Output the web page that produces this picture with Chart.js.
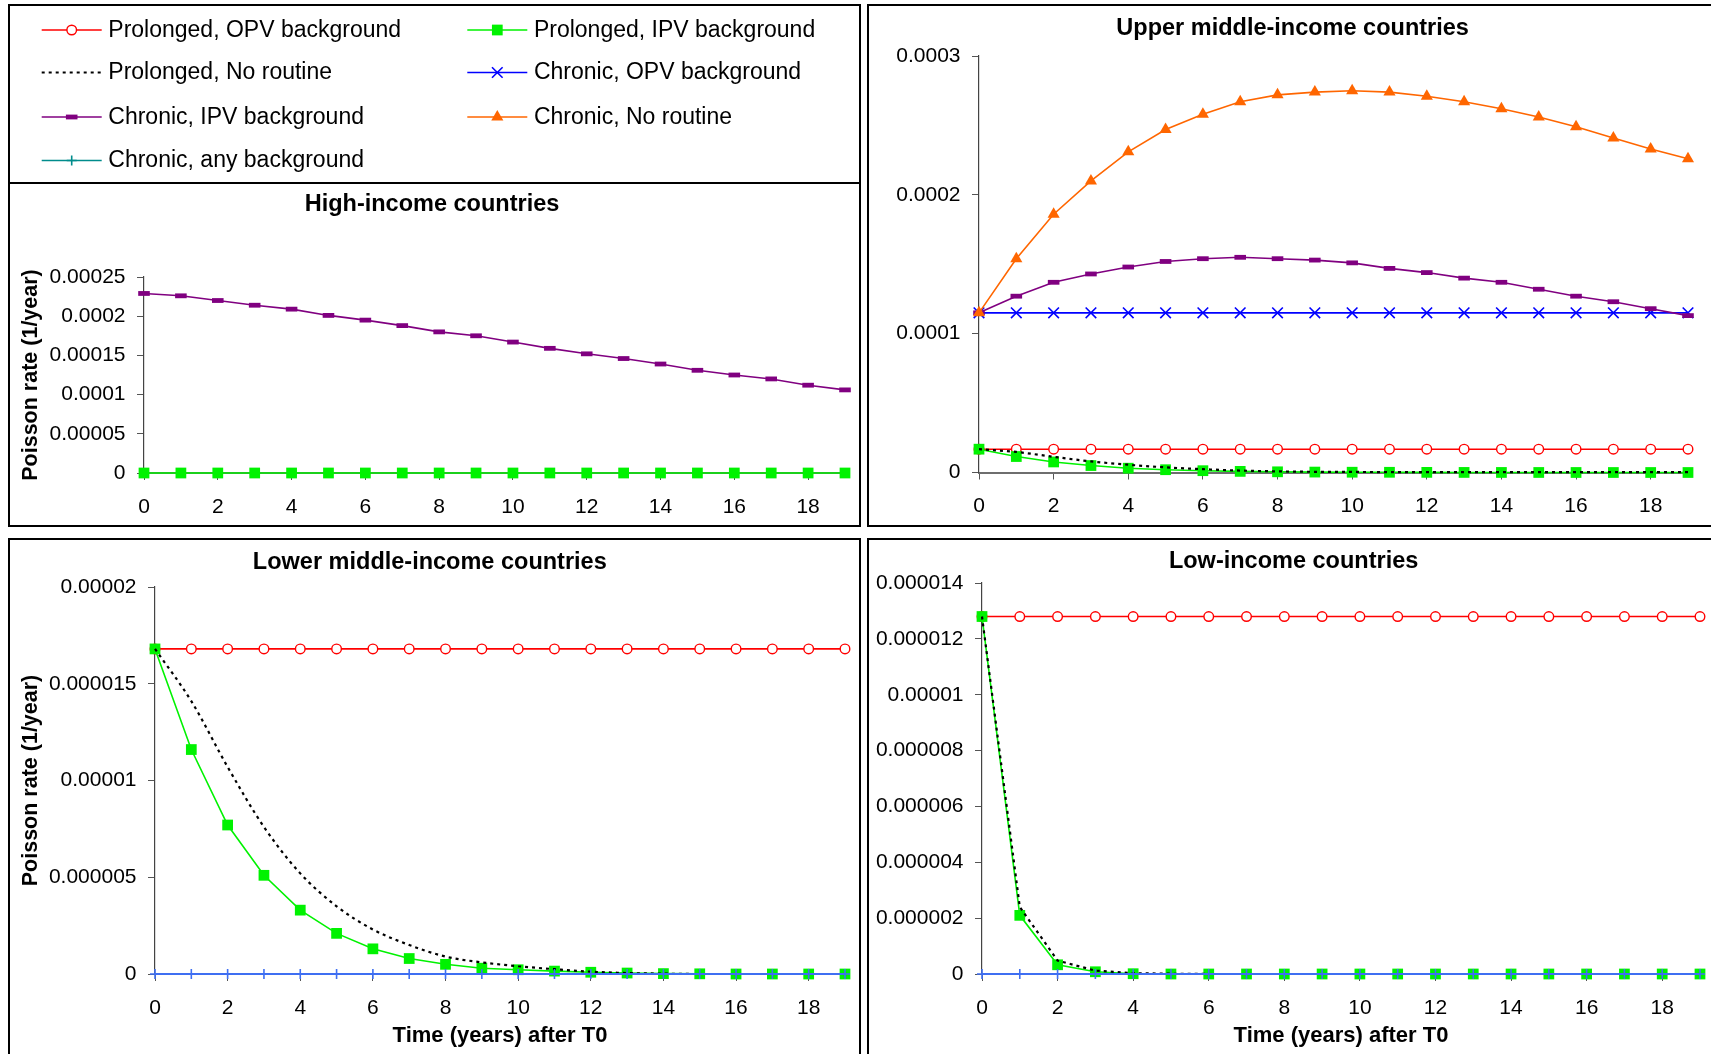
<!DOCTYPE html>
<html>
<head>
<meta charset="utf-8">
<title>Poisson rate of prolonged and chronic excretion by income group</title>
<script src="https://cdn.jsdelivr.net/npm/chart.js@4.4.0/dist/chart.umd.min.js"></script>
<style>
  html, body { margin: 0; padding: 0; background: #fff; width: 1711px; height: 1054px; overflow: hidden; }
  .panel { position: absolute; box-sizing: border-box; border: 2px solid #000; background: #fff; }
  .panel canvas { display: block; }
</style>
</head>
<body>
<div class="panel" style="left:8px;top:4px;width:853px;height:523px"><canvas id="c-hi" width="849" height="519"></canvas></div>
<div class="panel" style="left:867px;top:4px;width:846px;height:523px"><canvas id="c-um" width="842" height="519"></canvas></div>
<div class="panel" style="left:8px;top:538px;width:853px;height:520px"><canvas id="c-lm" width="849" height="516"></canvas></div>
<div class="panel" style="left:867px;top:538px;width:846px;height:520px"><canvas id="c-li" width="842" height="516"></canvas></div>

<script>
// ---- data ---------------------------------------------------------------

// Years after T0
const YEARS = [0, 1, 2, 3, 4, 5, 6, 7, 8, 9, 10, 11, 12, 13, 14, 15, 16, 17, 18, 19];
const X_TICKS = [0, 2, 4, 6, 8, 10, 12, 14, 16, 18];
const X_TICK_LABELS = ['0', '2', '4', '6', '8', '10', '12', '14', '16', '18'];

// High-income countries
const HI_PROLONGED_IPV = [0, 0, 0, 0, 0, 0, 0, 0, 0, 0, 0, 0, 0, 0, 0, 0, 0, 0, 0, 0];
const HI_CHRONIC_IPV = [0.000229, 0.000226, 0.000220, 0.000214, 0.000209, 0.000201, 0.000195, 0.000188, 0.000180, 0.000175,
                        0.000167, 0.000159, 0.000152, 0.000146, 0.000139, 0.000131, 0.000125, 0.000120, 0.000112, 0.000106];
const HI_Y_TICKS = [0, 0.00005, 0.0001, 0.00015, 0.0002, 0.00025];
const HI_Y_LABELS = ['0', '0.00005', '0.0001', '0.00015', '0.0002', '0.00025'];

// Upper middle-income countries
const UM_PROLONGED_OPV = [0.0000168, 0.0000168, 0.0000168, 0.0000168, 0.0000168, 0.0000168, 0.0000168, 0.0000168, 0.0000168, 0.0000168,
                          0.0000168, 0.0000168, 0.0000168, 0.0000168, 0.0000168, 0.0000168, 0.0000168, 0.0000168, 0.0000168, 0.0000168];
const UM_PROLONGED_IPV = [0.0000168, 0.0000115, 0.0000076, 0.0000050, 0.0000031, 0.0000020, 0.0000013, 0.0000008, 0.0000005, 0.0000003,
                          0.0000002, 0.00000015, 0.0000001, 0.00000005, 0.00000003, 0.00000002, 0.00000001, 0, 0, 0];
const UM_PROLONGED_NONE = [0.0000168, 0.0000148, 0.0000113, 0.0000080, 0.0000056, 0.0000037, 0.0000024, 0.0000014, 0.0000008, 0.0000005,
                           0.0000004, 0.0000003, 0.0000002, 0.0000002, 0.0000002, 0.0000002, 0.0000002, 0.0000002, 0.0000002, 0.0000002];
const UM_CHRONIC_OPV = [0.000115, 0.000115, 0.000115, 0.000115, 0.000115, 0.000115, 0.000115, 0.000115, 0.000115, 0.000115,
                        0.000115, 0.000115, 0.000115, 0.000115, 0.000115, 0.000115, 0.000115, 0.000115, 0.000115, 0.000115];
const UM_CHRONIC_IPV = [0.000115, 0.000127, 0.000137, 0.000143, 0.000148, 0.000152, 0.000154, 0.000155, 0.000154, 0.000153,
                        0.000151, 0.000147, 0.000144, 0.000140, 0.000137, 0.000132, 0.000127, 0.000123, 0.000118, 0.000113];
const UM_CHRONIC_NONE = [0.000115, 0.000154, 0.000186, 0.000210, 0.000231, 0.000247, 0.000258, 0.000267, 0.000272, 0.000274,
                         0.000275, 0.000274, 0.000271, 0.000267, 0.000262, 0.000256, 0.000249, 0.000241, 0.000233, 0.000226];
const UM_Y_TICKS = [0, 0.0001, 0.0002, 0.0003];
const UM_Y_LABELS = ['0', '0.0001', '0.0002', '0.0003'];

// Lower middle-income countries
const LM_PROLONGED_OPV = [0.0000168, 0.0000168, 0.0000168, 0.0000168, 0.0000168, 0.0000168, 0.0000168, 0.0000168, 0.0000168, 0.0000168,
                          0.0000168, 0.0000168, 0.0000168, 0.0000168, 0.0000168, 0.0000168, 0.0000168, 0.0000168, 0.0000168, 0.0000168];
const LM_PROLONGED_IPV = [0.0000168, 0.0000116, 0.0000077, 0.0000051, 0.0000033, 0.0000021, 0.0000013, 0.0000008, 0.0000005, 0.0000003,
                          0.00000022, 0.00000015, 0.00000009, 0.00000005, 0.00000002, 0.00000001, 0, 0, 0, 0];
const LM_PROLONGED_NONE = [0.0000168, 0.0000141, 0.0000107, 0.0000076, 0.0000052, 0.0000035, 0.0000023, 0.0000015, 0.0000009, 0.0000006,
                           0.0000004, 0.00000025, 0.00000012, 0.00000005, 0.00000002, 0, 0, 0, 0, 0];
const LM_CHRONIC_ANY = [0, 0, 0, 0, 0, 0, 0, 0, 0, 0, 0, 0, 0, 0, 0, 0, 0, 0, 0, 0];
const LM_Y_TICKS = [0, 0.000005, 0.00001, 0.000015, 0.00002];
const LM_Y_LABELS = ['0', '0.000005', '0.00001', '0.000015', '0.00002'];

// Low-income countries
const LI_PROLONGED_OPV = [0.0000128, 0.0000128, 0.0000128, 0.0000128, 0.0000128, 0.0000128, 0.0000128, 0.0000128, 0.0000128, 0.0000128,
                          0.0000128, 0.0000128, 0.0000128, 0.0000128, 0.0000128, 0.0000128, 0.0000128, 0.0000128, 0.0000128, 0.0000128];
const LI_PROLONGED_IPV = [0.0000128, 0.0000021, 0.00000033, 0.00000008, 0.00000001, 0, 0, 0, 0, 0, 0, 0, 0, 0, 0, 0, 0, 0, 0, 0];
const LI_PROLONGED_NONE = [0.0000128, 0.0000024, 0.00000048, 0.00000012, 0.00000003, 0.00000001, 0, 0, 0, 0, 0, 0, 0, 0, 0, 0, 0, 0, 0, 0];
const LI_CHRONIC_ANY = [0, 0, 0, 0, 0, 0, 0, 0, 0, 0, 0, 0, 0, 0, 0, 0, 0, 0, 0, 0];
const LI_Y_TICKS = [0, 0.000002, 0.000004, 0.000006, 0.000008, 0.00001, 0.000012, 0.000014];
const LI_Y_LABELS = ['0', '0.000002', '0.000004', '0.000006', '0.000008', '0.00001', '0.000012', '0.000014'];

// ---- styles -------------------------------------------------------------

const FONT = "'Liberation Sans', Arial, Helvetica, sans-serif";
Chart.defaults.font.family = FONT;
Chart.defaults.color = '#000';

const SERIES_STYLE = {
  prolongedOPV:  { label: 'Prolonged, OPV background', color: '#ff0000', width: 1.6, dash: [],     point: 'circle',   radius: 4.8, pointWidth: 1.4, fill: '#ffffff' },
  prolongedIPV:  { label: 'Prolonged, IPV background', color: '#00f200', width: 1.6, dash: [],     point: 'rect',     radius: 7.6, pointWidth: 0 },
  prolongedNone: { label: 'Prolonged, No routine',     color: '#000000', width: 2.2, dash: [3, 4], point: false,      radius: 0,   pointWidth: 0 },
  chronicOPV:    { label: 'Chronic, OPV background',   color: '#0000ff', width: 1.6, dash: [],     point: 'crossRot', radius: 7.5, pointWidth: 1.6 },
  chronicIPV:    { label: 'Chronic, IPV background',   color: '#800080', width: 1.6, dash: [],     point: 'line',     radius: 5.8, pointWidth: 4.8 },
  chronicNone:   { label: 'Chronic, No routine',       color: '#ff6600', width: 1.6, dash: [],     point: 'triangle', radius: 7,   pointWidth: 0 },
  chronicAny:    { label: 'Chronic, any background',   color: '#008c8c', width: 1.6, dash: [],     point: 'cross',    radius: 5,   pointWidth: 1.6 }
};
const LEGEND_ORDER = ['prolongedOPV', 'prolongedIPV', 'prolongedNone', 'chronicOPV', 'chronicIPV', 'chronicNone', 'chronicAny'];
const ZERO_LINE_BLUE = '#3f6ff2';

function makeDataset(entry, index) {
  const s = SERIES_STYLE[entry.key];
  const color = entry.color || s.color;
  return {
    label: s.label,
    data: YEARS.map((x, i) => ({ x: x, y: entry.values[i] })),
    order: -index,                       // later series are painted on top
    borderColor: color,
    borderWidth: entry.color ? 2 : s.width,
    borderDash: s.dash,
    pointStyle: s.point || 'circle',
    pointRadius: s.point ? s.radius : 0,
    pointBorderWidth: s.pointWidth,
    pointBorderColor: color,
    pointBackgroundColor: s.fill || color,
    cubicInterpolationMode: entry.smooth ? 'monotone' : 'default',
    tension: 0,
    fill: false,
    clip: false
  };
}

// Titles, legend and the legend separator are painted after the chart.
function panelDecor(panel) {
  return {
    id: 'panelDecor',
    afterDraw(chart) {
      const ctx = chart.ctx;
      ctx.save();
      ctx.fillStyle = '#000';
      ctx.textAlign = 'center';
      ctx.textBaseline = 'alphabetic';
      ctx.font = 'bold 23.5px ' + FONT;
      ctx.fillText(panel.title, panel.titlePos[0], panel.titlePos[1]);
      if (panel.legend) drawLegend(ctx, chart.width, panel.legend);
      ctx.restore();
    }
  };
}

function drawLegend(ctx, width, lg) {
  const drawPoint = Chart.helpers && Chart.helpers.drawPoint;
  ctx.save();
  ctx.strokeStyle = '#000';
  ctx.lineWidth = 2;
  ctx.beginPath();
  ctx.moveTo(0, lg.separatorY);
  ctx.lineTo(width, lg.separatorY);
  ctx.stroke();
  LEGEND_ORDER.forEach((key, i) => {
    const s = SERIES_STYLE[key];
    const x0 = lg.colX[i % 2];
    const y = lg.rowY[Math.floor(i / 2)];
    ctx.strokeStyle = s.color;
    ctx.lineWidth = s.width;
    ctx.setLineDash(s.dash);
    ctx.beginPath();
    ctx.moveTo(x0, y);
    ctx.lineTo(x0 + lg.lineLen, y);
    ctx.stroke();
    ctx.setLineDash([]);
    if (s.point && drawPoint) {
      ctx.fillStyle = s.fill || s.color;
      ctx.strokeStyle = s.color;
      ctx.lineWidth = s.pointWidth;
      drawPoint(ctx, { pointStyle: s.point, radius: s.radius, borderWidth: s.pointWidth, rotation: 0 }, x0 + lg.lineLen / 2, y);
    }
    ctx.fillStyle = '#000';
    ctx.font = '23px ' + FONT;
    ctx.textAlign = 'left';
    ctx.textBaseline = 'alphabetic';
    ctx.fillText(s.label, x0 + lg.lineLen + lg.gap, y + 6.7);
  });
  ctx.restore();
}

function buildChart(panel) {
  const canvas = document.getElementById(panel.canvas);
  const W = canvas.width, H = canvas.height, A = panel.area;
  const axisGrid = { display: true, drawOnChartArea: false, drawTicks: true, tickLength: 7, color: '#555', lineWidth: 1 };
  return new Chart(canvas, {
    type: 'line',
    data: { datasets: panel.series.map(makeDataset) },
    options: {
      responsive: false,
      animation: false,
      devicePixelRatio: 1,
      events: [],
      layout: { padding: { left: 0, top: A.top, right: W - A.right, bottom: 0 } },
      plugins: { legend: { display: false }, title: { display: false }, tooltip: { enabled: false } },
      scales: {
        x: {
          type: 'linear', min: 0, max: 19,
          afterBuildTicks: (s) => { s.ticks = X_TICKS.map(v => ({ value: v })); },
          afterFit: (s) => { s.height = H - A.bottom; },
          ticks: { callback: (v, i) => X_TICK_LABELS[i], autoSkip: false, maxRotation: 0, padding: 14.5, font: { size: 21 }, color: '#000' },
          grid: axisGrid,
          border: { display: true, color: '#6e6e6e', width: 2 },
          title: panel.xTitle
            ? { display: true, text: panel.xTitle, font: { size: 22, weight: 'bold' }, color: '#000', padding: { top: 0, bottom: 7.3 } }
            : { display: false }
        },
        y: {
          type: 'linear', min: 0, max: panel.yTicks[panel.yTicks.length - 1],
          afterBuildTicks: (s) => { s.ticks = panel.yTicks.map(v => ({ value: v })); },
          afterFit: (s) => { s.width = A.left; },
          ticks: { callback: (v, i) => panel.yLabels[i], padding: 11.5, font: { size: 21 }, color: '#000' },
          grid: axisGrid,
          border: { display: true, color: '#444', width: 1.2 },
          title: panel.yTitle
            ? { display: true, text: panel.yTitle, font: { size: 21.5, weight: 'bold' }, color: '#000', padding: { top: 8, bottom: 0 } }
            : { display: false }
        }
      }
    },
    plugins: [panelDecor(panel)]
  });
}

// ---- panels -------------------------------------------------------------

const Y_TITLE = 'Poisson rate (1/year)';
const X_TITLE = 'Time (years) after T0';

buildChart({
  canvas: 'c-hi', title: 'High-income countries', titlePos: [422, 205],
  area: { left: 134, right: 835, top: 271, bottom: 467 },
  yTicks: HI_Y_TICKS, yLabels: HI_Y_LABELS, yTitle: Y_TITLE,
  series: [
    { key: 'prolongedIPV', values: HI_PROLONGED_IPV },
    { key: 'chronicIPV', values: HI_CHRONIC_IPV }
  ],
  legend: { separatorY: 177, colX: [31.7, 457.3], rowY: [24, 66.5, 111, 154.5], lineLen: 60, gap: 6.6 }
});

buildChart({
  canvas: 'c-um', title: 'Upper middle-income countries', titlePos: [423.6, 29],
  area: { left: 110, right: 819, top: 50, bottom: 466.5 },
  yTicks: UM_Y_TICKS, yLabels: UM_Y_LABELS,
  series: [
    { key: 'prolongedOPV', values: UM_PROLONGED_OPV },
    { key: 'prolongedIPV', values: UM_PROLONGED_IPV },
    { key: 'prolongedNone', values: UM_PROLONGED_NONE, smooth: true },
    { key: 'chronicOPV', values: UM_CHRONIC_OPV },
    { key: 'chronicIPV', values: UM_CHRONIC_IPV },
    { key: 'chronicNone', values: UM_CHRONIC_NONE }
  ]
});

buildChart({
  canvas: 'c-lm', title: 'Lower middle-income countries', titlePos: [419.8, 29],
  area: { left: 145, right: 835, top: 47, bottom: 434 },
  yTicks: LM_Y_TICKS, yLabels: LM_Y_LABELS, yTitle: Y_TITLE, xTitle: X_TITLE,
  series: [
    { key: 'prolongedOPV', values: LM_PROLONGED_OPV },
    { key: 'prolongedIPV', values: LM_PROLONGED_IPV },
    { key: 'prolongedNone', values: LM_PROLONGED_NONE, smooth: true },
    { key: 'chronicAny', values: LM_CHRONIC_ANY, color: ZERO_LINE_BLUE }
  ]
});

buildChart({
  canvas: 'c-li', title: 'Low-income countries', titlePos: [424.6, 28.3],
  area: { left: 113, right: 831, top: 43, bottom: 434 },
  yTicks: LI_Y_TICKS, yLabels: LI_Y_LABELS, xTitle: X_TITLE,
  series: [
    { key: 'prolongedOPV', values: LI_PROLONGED_OPV },
    { key: 'prolongedIPV', values: LI_PROLONGED_IPV },
    { key: 'prolongedNone', values: LI_PROLONGED_NONE },
    { key: 'chronicAny', values: LI_CHRONIC_ANY, color: ZERO_LINE_BLUE }
  ]
});
</script>
</body>
</html>
